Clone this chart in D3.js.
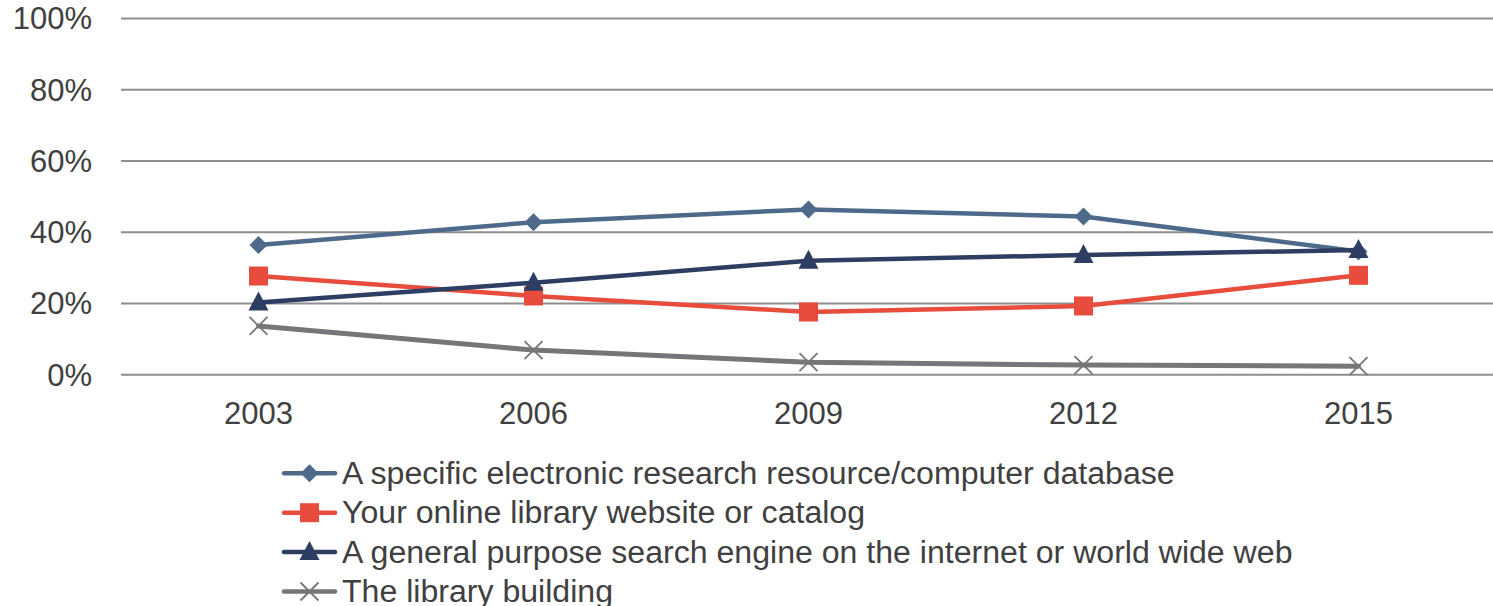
<!DOCTYPE html>
<html>
<head>
<meta charset="utf-8">
<script src="https://cdn.jsdelivr.net/npm/d3@7"></script>
<style>
  html, body { margin: 0; padding: 0; background: #fff; }
  svg { display: block; font-family: "Liberation Sans", Arial, sans-serif; }
</style>
</head>
<body>
<svg id="chart" width="1493" height="606"></svg>
<script>
// Survey years on the horizontal axis
const years = ["2003", "2006", "2009", "2012", "2015"];

// Share of respondents (%) per starting point, by year
const electronicResource = [36.4, 42.8, 46.4, 44.4, 34.6];
const libraryWebsite     = [27.7, 22.1, 17.6, 19.3, 27.9];
const searchEngine       = [20.3, 25.8, 32.0, 33.6, 35.0];
const libraryBuilding    = [13.7, 6.9, 3.5, 2.7, 2.4];

const yTicks = [0, 20, 40, 60, 80, 100];

const seriesNames = [
  "A specific electronic research resource/computer database",
  "Your online library website or catalog",
  "A general purpose search engine on the internet or world wide web",
  "The library building"
];

const series = [
  { name: seriesNames[0], values: electronicResource, color: "#4e6a8b", marker: "diamond" },
  { name: seriesNames[1], values: libraryWebsite,     color: "#e84c3c", marker: "square" },
  { name: seriesNames[2], values: searchEngine,       color: "#2e3e62", marker: "triangle" },
  { name: seriesNames[3], values: libraryBuilding,    color: "#76767a", marker: "cross" }
];

const svg = d3.select("#chart");
const textColor = "#404040";
const tickFont = 31;
const legendFont = 32.1;

const x = d3.scalePoint().domain(years).range([121, 1496]).padding(0.5);
const y = d3.scaleLinear().domain([0, 100]).range([374.7, 18.5]);

// Horizontal gridlines
svg.append("g").selectAll("line")
  .data(yTicks)
  .join("line")
  .attr("x1", 121).attr("x2", 1493)
  .attr("y1", d => y(d)).attr("y2", d => y(d))
  .attr("stroke", "#8e8e8e")
  .attr("stroke-width", 2);

// Y axis labels
svg.append("g").selectAll("text")
  .data(yTicks)
  .join("text")
  .attr("x", 92)
  .attr("y", d => y(d))
  .attr("dy", "0.35em")
  .attr("text-anchor", "end")
  .attr("fill", textColor)
  .attr("font-size", tickFont)
  .text(d => d + "%");

// X axis labels
svg.append("g").selectAll("text")
  .data(years)
  .join("text")
  .attr("x", d => x(d))
  .attr("y", 424)
  .attr("text-anchor", "middle")
  .attr("fill", textColor)
  .attr("font-size", tickFont)
  .text(d => d);

// Marker shapes
function drawMarker(g, type, color) {
  if (type === "diamond") {
    g.append("path").attr("d", "M0,-9L9,0L0,9L-9,0Z").attr("fill", color);
  } else if (type === "square") {
    g.append("rect").attr("x", -9.5).attr("y", -9.5).attr("width", 19).attr("height", 19).attr("fill", color);
  } else if (type === "triangle") {
    g.append("path").attr("d", "M0,-11L10,8L-10,8Z").attr("fill", color);
  } else {
    g.append("path").attr("d", "M-9,-9L9,9M-9,9L9,-9")
      .attr("stroke", color).attr("stroke-width", 1.8).attr("fill", "none");
  }
}

const line = d3.line()
  .x((d, i) => x(years[i]))
  .y(d => y(d));

// Lines and markers, one series after another
series.forEach(s => {
  const g = svg.append("g");
  g.append("path")
    .attr("d", line(s.values))
    .attr("fill", "none")
    .attr("stroke", s.color)
    .attr("stroke-width", s.marker === "cross" ? 5 : 4.5)
    .attr("stroke-linejoin", "round")
    .attr("stroke-linecap", "round");
  s.values.forEach((v, i) => {
    const m = g.append("g").attr("transform", `translate(${x(years[i])},${y(v)})`);
    drawMarker(m, s.marker, s.color);
  });
});

// Legend
const legend = svg.append("g");
series.forEach((s, i) => {
  const cy = 473.3 + i * 39.4;
  const row = legend.append("g");
  row.append("line")
    .attr("x1", 284).attr("x2", 335)
    .attr("y1", cy).attr("y2", cy)
    .attr("stroke", s.color)
    .attr("stroke-width", 4.5)
    .attr("stroke-linecap", "round");
  const m = row.append("g").attr("transform", `translate(309.5,${cy})`);
  drawMarker(m, s.marker, s.color);
  row.append("text")
    .attr("x", 342)
    .attr("y", cy + 10.5)
    .attr("fill", textColor)
    .attr("font-size", legendFont)
    .text(s.name);
});
</script>
</body>
</html>
